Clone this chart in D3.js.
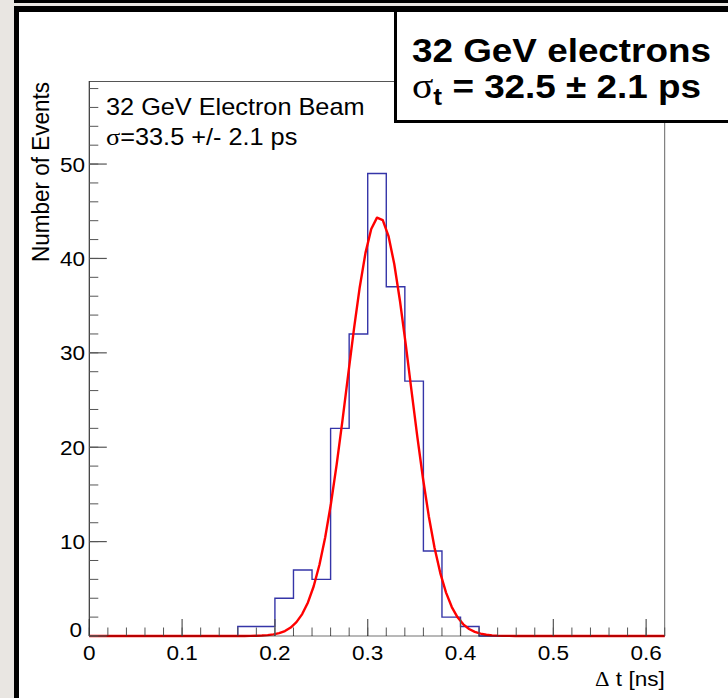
<!DOCTYPE html>
<html>
<head>
<meta charset="utf-8">
<script src="https://cdn.jsdelivr.net/npm/d3@7"></script>
<style>
  html, body { margin: 0; padding: 0; background: #fff; }
  svg { display: block; }
</style>
</head>
<body>
<svg id="chart" width="728" height="698"></svg>
<script>
// Histogram of arrival-time differences: lower edge of each filled bin and its count
const binWidth = 0.02;
const binLow = [0.16, 0.18, 0.20, 0.22, 0.24, 0.26, 0.28, 0.30, 0.32, 0.34, 0.36, 0.38, 0.40];
const counts = [1, 1, 4, 7, 6, 22, 32, 49, 37, 27, 9, 2, 1];

// Gaussian fit parameters (constant, mean [ns], sigma [ns])
const fitConstant = 44.4;
const fitMean = 0.312;
const fitSigma = 0.034;

// Axis ranges and tick labels
const xDomain = [0, 0.62];
const yDomain = [0, 58.8];
const xMajorTicks = [0, 0.1, 0.2, 0.3, 0.4, 0.5, 0.6];
const xTickLabels = ["0", "0.1", "0.2", "0.3", "0.4", "0.5", "0.6"];
const yMajorTicks = [0, 10, 20, 30, 40, 50];
const yTickLabels = ["0", "10", "20", "30", "40", "50"];
const xMinorStep = 0.02;
const yMinorStep = 2;

(function draw() {
  const svg = d3.select("#chart");
  const W = 728, H = 698;

  // Frame of the slide: grey margin, black double rule on top, black rule on the left
  svg.append("rect").attr("width", W).attr("height", H).attr("fill", "#e9e6e2");
  svg.append("rect").attr("x", 19).attr("y", 12).attr("width", W - 19).attr("height", H - 12).attr("fill", "#fff");
  svg.append("rect").attr("x", 14).attr("y", 0).attr("width", W - 14).attr("height", 3).attr("fill", "#000");
  svg.append("rect").attr("x", 14).attr("y", 6).attr("width", W - 14).attr("height", 6).attr("fill", "#000");
  svg.append("rect").attr("x", 14).attr("y", 6).attr("width", 5).attr("height", H - 6).attr("fill", "#000");

  // Plot area
  const pLeft = 89.3, pRight = 664.7, pTop = 81, pBottom = 636;
  const x = d3.scaleLinear().domain(xDomain).range([pLeft, pRight]);
  const y = d3.scaleLinear().domain(yDomain).range([pBottom, pTop]);

  const SX = 1.1; // horizontal widening of the lettering
  function label(g, px, py, anchor, size, parts, opts = {}) {
    const t = g.append("text")
      .attr("transform", `translate(${px},${py}) scale(${opts.sx || SX},1)`)
      .attr("text-anchor", anchor)
      .attr("font-family", "'Liberation Sans', Arial, Helvetica, sans-serif")
      .attr("font-size", size)
      .attr("font-weight", opts.bold ? "bold" : "normal")
      .attr("fill", "#000");
    (Array.isArray(parts) ? parts : [{ s: parts }]).forEach(p => {
      const ts = t.append("tspan").text(p.s);
      if (p.serif) ts.attr("font-family", "'Liberation Serif', 'DejaVu Serif', serif");
      if (p.size) ts.attr("font-size", p.size);
      if (p.dy) ts.attr("dy", p.dy);
      if (p.weight) ts.attr("font-weight", p.weight);
    });
    return t;
  }

  const plot = svg.append("g");

  // Frame lines (top and right)
  plot.append("line").attr("x1", pLeft).attr("x2", pRight).attr("y1", pTop + 0.5).attr("y2", pTop + 0.5)
    .attr("stroke", "#555").attr("stroke-width", 1);
  plot.append("line").attr("x1", pRight).attr("x2", pRight).attr("y1", pTop).attr("y2", pBottom)
    .attr("stroke", "#666").attr("stroke-width", 1);

  // Histogram outline over the full axis range (empty bins sit on zero)
  const nBins = Math.round((xDomain[1] - xDomain[0]) / binWidth);
  const full = d3.range(nBins).map(i => {
    const lo = xDomain[0] + i * binWidth;
    const k = binLow.findIndex(b => Math.abs(b - lo) < 1e-9);
    return { lo, hi: lo + binWidth, c: k >= 0 ? counts[k] : 0 };
  });
  const histPts = [[xDomain[0], 0]];
  full.forEach(b => { histPts.push([b.lo, b.c]); histPts.push([b.hi, b.c]); });
  histPts.push([xDomain[1], 0]);
  plot.append("path")
    .attr("d", d3.line().x(d => x(d[0])).y(d => y(d[1]))(histPts))
    .attr("fill", "none").attr("stroke", "#3535a8").attr("stroke-width", 1.4);

  // Gaussian fit, sampled at 100 points across the axis
  const gauss = t => fitConstant * Math.exp(-0.5 * Math.pow((t - fitMean) / fitSigma, 2));
  const fitPts = d3.range(101).map(i => {
    const t = xDomain[0] + i * (xDomain[1] - xDomain[0]) / 100;
    return [t, gauss(t)];
  });
  plot.append("path")
    .attr("d", d3.line().x(d => x(d[0])).y(d => y(d[1]))(fitPts))
    .attr("fill", "none").attr("stroke", "#ff0000").attr("stroke-width", 2.4)
    .attr("stroke-linejoin", "round");

  // X axis
  const xMinor = d3.range(xDomain[0], xDomain[1] + 1e-9, xMinorStep).map(v => +v.toFixed(4));
  const xAxisG = plot.append("g");
  xAxisG.selectAll("line.minor").data(xMinor).join("line")
    .attr("x1", d => x(d)).attr("x2", d => x(d))
    .attr("y1", pBottom).attr("y2", pBottom - 8.5)
    .attr("stroke", "#555").attr("stroke-width", 1);
  xAxisG.selectAll("line.major").data(xMajorTicks).join("line")
    .attr("x1", d => x(d)).attr("x2", d => x(d))
    .attr("y1", pBottom).attr("y2", pBottom - 17)
    .attr("stroke", "#555").attr("stroke-width", 1.2);
  xAxisG.append("line").attr("x1", pLeft).attr("x2", pRight).attr("y1", pBottom).attr("y2", pBottom)
    .attr("stroke", "#000").attr("stroke-width", 1.2).attr("opacity", 0.55);
  xMajorTicks.forEach((v, i) => label(xAxisG, x(v), 660, "middle", 20.5, xTickLabels[i]));
  label(xAxisG, pRight, 686, "end", 20.5, [{ s: "\u0394", serif: true }, { s: " t [ns]" }]);

  // Y axis
  const yMinor = d3.range(yDomain[0], yDomain[1], yMinorStep);
  const yAxisG = plot.append("g");
  yAxisG.append("line").attr("x1", pLeft).attr("x2", pLeft).attr("y1", pTop).attr("y2", pBottom)
    .attr("stroke", "#333").attr("stroke-width", 1.2);
  yAxisG.selectAll("line.minor").data(yMinor).join("line")
    .attr("x1", pLeft).attr("x2", pLeft + 9)
    .attr("y1", d => y(d)).attr("y2", d => y(d))
    .attr("stroke", "#555").attr("stroke-width", 1);
  yAxisG.selectAll("line.major").data(yMajorTicks).join("line")
    .attr("x1", pLeft).attr("x2", pLeft + 17.5)
    .attr("y1", d => y(d)).attr("y2", d => y(d))
    .attr("stroke", "#555").attr("stroke-width", 1.2);
  yMajorTicks.forEach((v, i) => {
    const py = v === 0 ? y(v) + 1 : y(v) + 7.5;
    label(yAxisG, v === 0 ? 82 : 85, py, "end", 20.5, yTickLabels[i]);
  });
  yAxisG.append("text")
    .attr("transform", `translate(49,${pTop + 1}) rotate(-90) scale(1,${SX})`)
    .attr("text-anchor", "end")
    .attr("font-family", "'Liberation Sans', Arial, sans-serif")
    .attr("font-size", 22.5)
    .text("Number of Events");

  // Legend text inside the frame
  label(plot, 106, 115, "start", 23, "32 GeV Electron Beam");
  label(plot, 106, 145, "start", 23, [{ s: "\u03c3", serif: true, size: 24 }, { s: "=33.5 +/- 2.1 ps" }]);

  // Headline box in the top-right corner
  const box = svg.append("g");
  box.append("rect").attr("x", 395.5).attr("y", 8).attr("width", W).attr("height", 113.5)
    .attr("fill", "#fff").attr("stroke", "#000").attr("stroke-width", 3);
  svg.append("rect").attr("x", 394).attr("y", 6).attr("width", W - 394).attr("height", 6).attr("fill", "#000");
  label(box, 412, 62, "start", 33.5, "32 GeV electrons", { bold: true });
  label(box, 412, 98, "start", 33.5, [
    { s: "\u03c3", serif: true, weight: "normal", size: 36 },
    { s: "t", size: 24, dy: 7 },
    { s: " = 32.5 \u00b1 2.1 ps", dy: -7 }
  ], { bold: true });
})();
</script>
</body>
</html>
